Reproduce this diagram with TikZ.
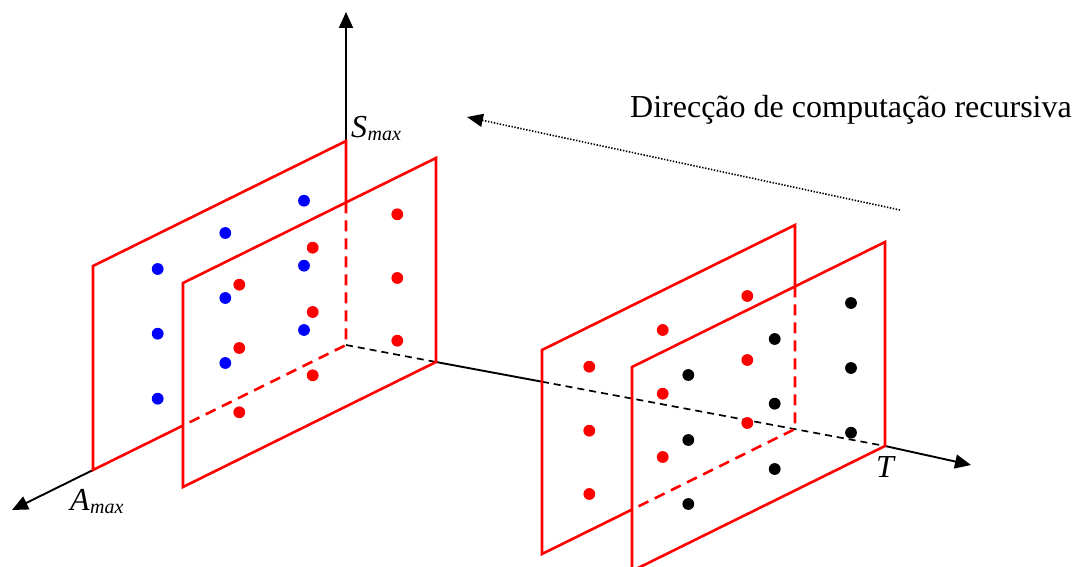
\documentclass[tikz,border=0pt]{standalone}
\usepackage{fontspec}
\setmainfont{Liberation Serif}
\usetikzlibrary{arrows.meta}
\begin{document}
\begin{tikzpicture}[x=1pt,y=-1pt,
  plane/.style={red, line width=2.6pt, line join=miter},
  hidden/.style={red, line width=2.6pt, dash pattern=on 11pt off 7pt},
  axis/.style={black, line width=1.9pt},
  axisdash/.style={black, line width=1.7pt, dash pattern=on 7pt off 5pt},
  tip/.style={-{Triangle[length=16pt,width=14pt]}},
  dotline/.style={black, line width=1.6pt, dash pattern=on 1.4pt off 1.6pt},
  lbl/.style={font=\fontsize{32}{36}\selectfont, inner sep=0pt},
  sub/.style={font=\fontsize{20}{22}\selectfont\itshape, inner sep=0pt},
  bluedot/.style={fill=blue},
  reddot/.style={fill=red},
  blackdot/.style={fill=black}
]
\useasboundingbox (0,0) rectangle (1077,567);

% axis end points
\coordinate (O) at (346,345);
\coordinate (Stip) at (346,12);
\coordinate (Atip) at (12,510);
\coordinate (Ttip) at (971,465);

% plane corners
\coordinate (BR1) at (346,345); \coordinate (TR1) at (346,141);
\coordinate (TL1) at (93,266);  \coordinate (BL1) at (93,470);
\coordinate (BR2) at (436,362); \coordinate (TR2) at (436,158);
\coordinate (TL2) at (183,283); \coordinate (BL2) at (183,487);
\coordinate (BR3) at (795,429); \coordinate (TR3) at (795,225);
\coordinate (TL3) at (542,350); \coordinate (BL3) at (542,554);
\coordinate (BR4) at (885,446); \coordinate (TR4) at (885,242);
\coordinate (TL4) at (632,367); \coordinate (BL4) at (632,571);

% crossing points
\coordinate (X1r) at (intersection of TR1--BR1 and TL2--TR2);
\coordinate (X1b) at (intersection of BL1--BR1 and BL2--TL2);
\coordinate (X3r) at (intersection of TR3--BR3 and TL4--TR4);
\coordinate (X3b) at (intersection of BL3--BR3 and BL4--TL4);
\coordinate (XT) at (intersection of O--BR4 and BL3--TL3);

% axes
\draw[axis, tip] (TR1) -- (Stip);
\draw[axis, tip] (BL1) -- (Atip);
\draw[axisdash] (O) -- (BR2);
\draw[axis] (BR2) -- (XT);
\draw[axisdash] (XT) -- (BR4);
\draw[axis, tip] (BR4) -- (Ttip);

% planes
\draw[plane] (X1b) -- (BL1) -- (TL1) -- (TR1) -- (X1r);
\draw[hidden] (X1r) -- (BR1) -- (X1b);
\draw[plane] (BL2) -- (TL2) -- (TR2) -- (BR2) -- cycle;
\draw[plane] (X3b) -- (BL3) -- (TL3) -- (TR3) -- (X3r);
\draw[hidden] (X3r) -- (BR3) -- (X3b);
\draw[plane] (BL4) -- (TL4) -- (TR4) -- (BR4) -- cycle;

% dots
\foreach \p in {(157.7,269),(157.7,333.7),(157.7,398.7),(225.3,233),(225.3,298),(225.3,363),(304,200.7),(304,265.7),(304,330)}
  \fill[bluedot] \p circle (5.9pt);
\foreach \p in {(239.3,284.7),(239.3,348),(239.3,412.3),(312.7,247.7),(312.7,312),(312.7,375.3),(397.3,214.3),(397.3,278),(397.3,340.7)}
  \fill[reddot] \p circle (5.9pt);
\foreach \p in {(589.3,366.7),(589.3,430.7),(589.3,494),(662.7,330),(662.7,393.7),(662.7,457),(747.3,296),(747.3,360),(747.3,423)}
  \fill[reddot] \p circle (5.9pt);
\foreach \p in {(688.3,375),(688.3,440),(688.3,504),(774.7,339),(774.7,403.7),(774.7,469),(851,303),(851,368),(851,432.7)}
  \fill[blackdot] \p circle (5.9pt);

% labels
\node[lbl, anchor=base west] (S) at (351,138) {\itshape S};
\node[sub, anchor=base west] (Ssub) at (S.base east) [yshift=-3pt] {max};
\node[lbl, anchor=base west] (A) at (70,510) {\itshape A};
\node[sub, anchor=base west] (Asub) at (A.base east) [yshift=-3pt] {max};
\node[lbl, anchor=base west] (T) at (876,477) {\itshape T};
\node[lbl, anchor=base west] (title) at (630,118) {Direcção de computação recursiva};

% recursion direction
\coordinate (Dstart) at (900,210);
\coordinate (Dend) at (467,117);
\draw[dotline, -{Triangle[length=16pt,width=13pt]}] (Dstart) -- (Dend);
\end{tikzpicture}
\end{document}
